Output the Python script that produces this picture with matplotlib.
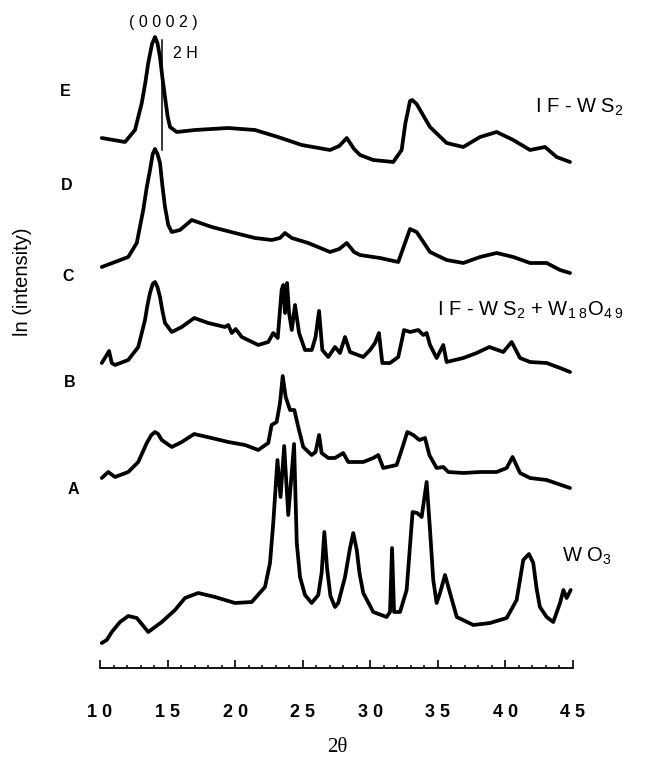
import matplotlib
matplotlib.use("Agg")
import matplotlib.pyplot as plt
from matplotlib.ticker import MultipleLocator, FixedLocator

plt.rcParams['font.family'] = ['Liberation Sans', 'DejaVu Sans']
plt.rcParams['mathtext.fontset'] = 'custom'
plt.rcParams['mathtext.rm'] = 'Liberation Sans'
plt.rcParams['mathtext.it'] = 'Liberation Sans'

# 2theta (deg) and ln(intensity) with stacking offset (arb. units)
tt_E = [10.13, 11.85, 12.59, 13.09, 13.35, 13.57, 13.85, 14.07, 14.25, 14.44, 14.62, 14.81, 15.0,
        15.18, 15.68, 17.03, 19.47, 21.47, 23.17, 24.93, 27.02, 27.7, 28.26, 28.8, 29.24, 30.22,
        31.70, 32.32, 32.6, 32.94, 33.1, 33.43, 33.9, 34.42, 35.65, 36.88, 38.12, 39.35, 40.58,
        41.82, 42.93, 43.79, 44.78]
ln_E = [530, 526, 538, 565, 585, 605, 624, 631, 625, 611, 590, 571, 552,
        541, 536, 538, 540, 538, 531, 523, 518, 522, 530, 519, 513, 508,
        506, 518, 545, 567, 568, 564, 553, 541, 525, 521, 531, 536, 528,
        518, 521, 511, 506]

tt_D = [10.13, 11.11, 12.09, 12.72, 13.20, 13.45, 13.70, 13.90, 14.07, 14.25, 14.44, 14.62, 14.81,
        15.05, 15.31, 15.92, 16.79, 18.27, 19.99, 21.47, 22.71, 23.32, 23.69, 24.19, 25.41, 27.02,
        27.7, 28.26, 28.8, 29.24, 30.72, 32.07, 32.57, 32.94, 33.43, 34.42, 35.65, 36.88, 38.12,
        39.35, 40.58, 41.82, 43.05, 44.04, 44.78]
ln_D = [401, 406, 411, 425, 458, 480, 498, 514, 519, 514, 505, 482, 461,
        443, 436, 438, 448, 441, 435, 430, 428, 430, 435, 430, 425, 416,
        419, 425, 416, 413, 410, 406, 425, 439, 436, 416, 408, 405, 411,
        415, 411, 405, 405, 398, 395]

tt_C = [10.13, 10.50, 10.67, 10.87, 11.11, 12.09, 12.83, 13.33, 13.50, 13.70, 13.90, 14.07, 14.25,
        14.44, 14.62, 14.81, 15.31, 16.05, 16.97, 18.01, 19.25, 19.49, 19.75, 20.04, 20.49, 21.71,
        22.45, 22.82, 23.15, 23.44, 23.56, 23.69, 23.84, 23.99, 24.19, 24.43, 24.73, 25.17, 25.67,
        25.95, 26.21, 26.45, 26.89, 27.39, 27.76, 28.13, 28.50, 29.48, 29.98, 30.35, 30.64, 30.89,
        31.46, 32.07, 32.50, 32.94, 33.55, 33.92, 34.17, 34.42, 34.91, 35.40, 35.65, 36.88, 37.87,
        38.81, 39.84, 40.46, 41.08, 41.82, 43.05, 44.04, 44.78]
ln_C = [305, 313, 317, 305, 303, 308, 321, 348, 362, 375, 384, 386, 381,
        371, 357, 345, 336, 341, 350, 345, 341, 343, 335, 339, 331, 323,
        326, 335, 330, 378, 383, 355, 385, 355, 338, 363, 335, 318, 318,
        331, 357, 318, 311, 321, 315, 331, 316, 311, 318, 325, 335, 305,
        305, 311, 338, 336, 338, 333, 335, 323, 310, 323, 306, 310, 315,
        321, 316, 326, 310, 306, 305, 300, 296]

tt_B = [10.13, 10.61, 11.11, 12.09, 12.83, 13.46, 13.80, 14.07, 14.30, 14.57, 15.31, 16.05, 16.97,
        18.26, 19.49, 20.73, 21.71, 22.45, 22.70, 23.07, 23.32, 23.52, 23.74, 24.06, 24.38, 24.67,
        25.04, 25.66, 25.95, 26.21, 26.40, 26.89, 27.39, 28.00, 28.37, 29.48, 30.22, 30.59, 30.96,
        31.95, 32.32, 32.74, 33.18, 33.63, 34.05, 34.37, 34.91, 35.40, 35.77, 36.88, 38.12, 39.35,
        40.09, 40.53, 41.08, 41.82, 43.05, 44.78]
ln_B = [190, 196, 191, 196, 206, 225, 233, 236, 234, 228, 221, 226, 234,
        230, 226, 223, 218, 225, 243, 246, 265, 292, 271, 258, 258, 241,
        221, 213, 216, 233, 215, 210, 210, 215, 206, 206, 210, 213, 200,
        203, 218, 236, 233, 228, 230, 213, 200, 201, 196, 195, 196, 196,
        200, 211, 195, 190, 188, 180]

tt_A = [10.13, 10.50, 10.87, 11.48, 12.09, 12.72, 13.57, 14.57, 15.55, 16.29, 17.27, 18.51, 19.99,
        21.23, 22.21, 22.58, 22.82, 23.13, 23.36, 23.63, 23.93, 24.36, 24.56, 24.80, 25.17, 25.66,
        26.15, 26.40, 26.60, 26.80, 27.05, 27.39, 27.63, 28.13, 28.50, 28.74, 29.0, 29.20, 29.48,
        30.22, 31.21, 31.46, 31.61, 31.76, 32.20, 32.69, 33.13, 33.47, 33.80, 34.17, 34.42, 34.66,
        34.91, 35.16, 35.53, 35.90, 36.40, 37.62, 38.86, 40.09, 40.83, 41.32, 41.74, 42.06, 42.30,
        42.55, 43.05, 43.54, 44.04, 44.29, 44.53, 44.83]
ln_A = [25, 28, 36, 46, 52, 50, 36, 46, 58, 70, 75, 71, 65,
        66, 81, 105, 145, 208, 171, 222, 153, 224, 125, 91, 73, 65,
        73, 95, 136, 100, 72, 61, 65, 91, 120, 135, 118, 95, 75,
        56, 51, 56, 120, 56, 56, 78, 156, 155, 151, 186, 138, 88,
        65, 75, 93, 75, 51, 43, 45, 50, 68, 108, 114, 105, 80,
        61, 51, 46, 65, 78, 70, 78]

curves = [(tt_A, ln_A), (tt_B, ln_B), (tt_C, ln_C), (tt_D, ln_D), (tt_E, ln_E)]
letters = ['A', 'B', 'C', 'D', 'E']
letter_x = [8.02, 7.78, 7.65, 7.54, 7.41]
letter_y = [178, 285, 391, 482, 576]

major_ticks = [10, 15, 20, 25, 30, 35, 40, 45]
major_labels = ['1 0', '1 5', '2 0', '2 5', '3 0', '3 5', '4 0', '4 5']

fig = plt.figure(figsize=(6.49, 7.59), dpi=100)
ax = fig.add_axes([100 / 649, 1 - 668 / 759, 473 / 649, 648 / 759])

for tt, ln in curves:
    ax.plot(tt, ln, color='black', lw=2.7, solid_joinstyle='round', solid_capstyle='round')

ax.set_xlim(10, 45)
ax.set_ylim(0, 648)

for s in ['left', 'right', 'top']:
    ax.spines[s].set_visible(False)
ax.spines['bottom'].set_linewidth(1.3)
ax.set_yticks([])

ax.xaxis.set_major_locator(FixedLocator(major_ticks))
ax.xaxis.set_minor_locator(MultipleLocator(1))
ax.set_xticklabels(major_labels, fontsize=13, fontweight='bold')
ax.tick_params(axis='x', which='major', direction='in', length=5.5, width=1.2, pad=26)
ax.tick_params(axis='x', which='minor', direction='in', length=2.5, width=1.1)

# sample letters
for lt, lx, ly in zip(letters, letter_x, letter_y):
    ax.text(lx, ly, lt, fontsize=11.5, fontweight='bold', ha='center', va='center', clip_on=False)

# 2H marker and (0002) reflection
ax.plot([14.57, 14.57], [518, 628], color='black', lw=1.1)
ax.text(14.66, 646, '( 0 0 0 2 )', fontsize=11.5, ha='center', va='center', clip_on=False)
ax.text(15.40, 614, '2 H', fontsize=11.5, ha='left', va='center')

ax.text(42.19, 561, r'I F - W S$_{2}$', fontsize=14.5, ha='left', va='center', clip_on=False)
ax.text(34.94, 358, r'I F - W S$_{2}$ + W$_{1\ 8}$O$_{4\ 9}$', fontsize=14.5, ha='left',
        va='center', clip_on=False)
ax.text(44.19, 112, r'W O$_{3}$', fontsize=14.5, ha='left', va='center', clip_on=False)

fig.text(23 / 649, 1 - 282 / 759, 'ln (intensity)', rotation=90, fontsize=14.5,
         ha='center', va='center')
fig.text(337 / 649, 1 - 747 / 759, '2θ', fontsize=15, family='Liberation Serif',
         ha='center', va='center')

fig.savefig('out.png', dpi=100)
